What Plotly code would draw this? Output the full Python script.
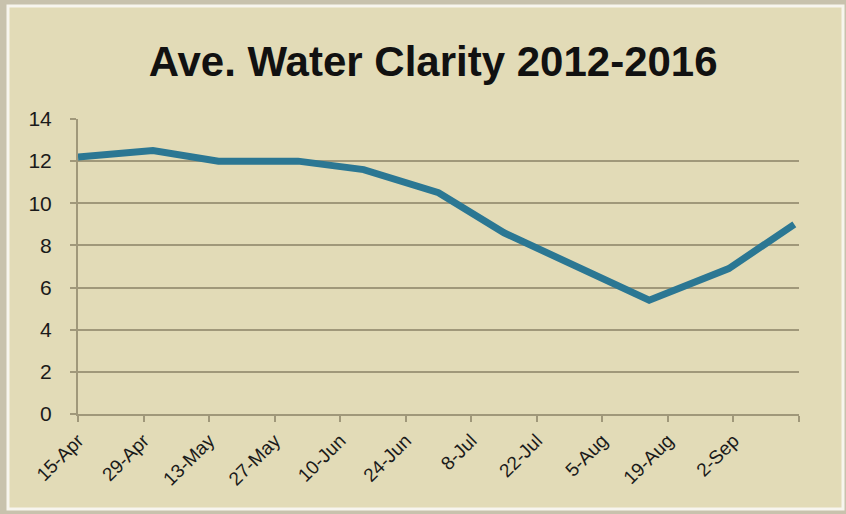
import plotly.graph_objects as go

# ---- data ----
dates = ["2016-04-15", "2016-05-01", "2016-05-15", "2016-06-01", "2016-06-15",
         "2016-07-01", "2016-07-15", "2016-08-01", "2016-08-15", "2016-09-01",
         "2016-09-15"]
clarity = [12.2, 12.5, 12.0, 12.0, 11.6, 10.5, 8.6, 6.8, 5.4, 6.9, 9.0]

tick_dates = ["2016-04-15", "2016-04-29", "2016-05-13", "2016-05-27", "2016-06-10",
              "2016-06-24", "2016-07-08", "2016-07-22", "2016-08-05", "2016-08-19",
              "2016-09-02", "2016-09-16"]
tick_labels = ["15-Apr", "29-Apr", "13-May", "27-May", "10-Jun", "24-Jun",
               "8-Jul", "22-Jul", "5-Aug", "19-Aug", "2-Sep", ""]
y_ticks = [0, 2, 4, 6, 8, 10, 12, 14]

title_text = "Ave. Water Clarity 2012-2016"

# ---- style ----
W, H = 846, 514
ml, mr, mt, mb = 78, 47, 119, 100
pw, ph = W - ml - mr, H - mt - mb

beige = "#e2dbb7"
outer = "#c8c2ad"
grid = "#a0987a"
line_col = "#2b7793"
font_family = "Liberation Sans, Arial, sans-serif"


def px_x(px):
    return (px - ml) / pw


def px_y(py):
    return (H - mb - py) / ph


fig = go.Figure()
fig.add_trace(go.Scatter(
    x=dates, y=clarity, mode="lines",
    line=dict(color=line_col, width=7),
    showlegend=False, hoverinfo="x+y",
))

fig.add_shape(type="rect", xref="paper", yref="paper", layer="below",
              x0=px_x(8), x1=px_x(843), y0=px_y(509), y1=px_y(6),
              fillcolor=beige, line=dict(color="#f7f5ee", width=3))

fig.update_layout(
    width=W, height=H,
    margin=dict(l=ml, r=mr, t=mt, b=mb, pad=0),
    paper_bgcolor=outer,
    plot_bgcolor="rgba(0,0,0,0)",
    font=dict(family=font_family, color="#1a1a1a"),
    title=dict(text="<b>" + title_text + "</b>", x=0.512, xanchor="center",
               y=1 - 61 / H, yanchor="middle",
               font=dict(size=42, color="#111111", family=font_family)),
    xaxis=dict(
        type="date",
        range=[tick_dates[0], tick_dates[-1]],
        tickmode="array", tickvals=tick_dates, ticktext=tick_labels,
        tickangle=-45,
        showgrid=False, zeroline=False,
        showline=True, linecolor=grid, linewidth=2,
        ticks="outside", ticklen=6, tickwidth=2, tickcolor=grid,
        tickfont=dict(size=19, color="#1a1a1a"),
        fixedrange=True,
    ),
    yaxis=dict(
        range=[0, 14],
        tickmode="array", tickvals=y_ticks,
        showgrid=True, gridcolor=grid, gridwidth=2,
        zeroline=False,
        showline=True, linecolor=grid, linewidth=2,
        ticks="outside", ticklen=6, tickwidth=2, tickcolor=grid,
        tickfont=dict(size=21, color="#1a1a1a"),
        ticklabelstandoff=14,
        fixedrange=True,
    ),
)

fig.write_html("out.html")
